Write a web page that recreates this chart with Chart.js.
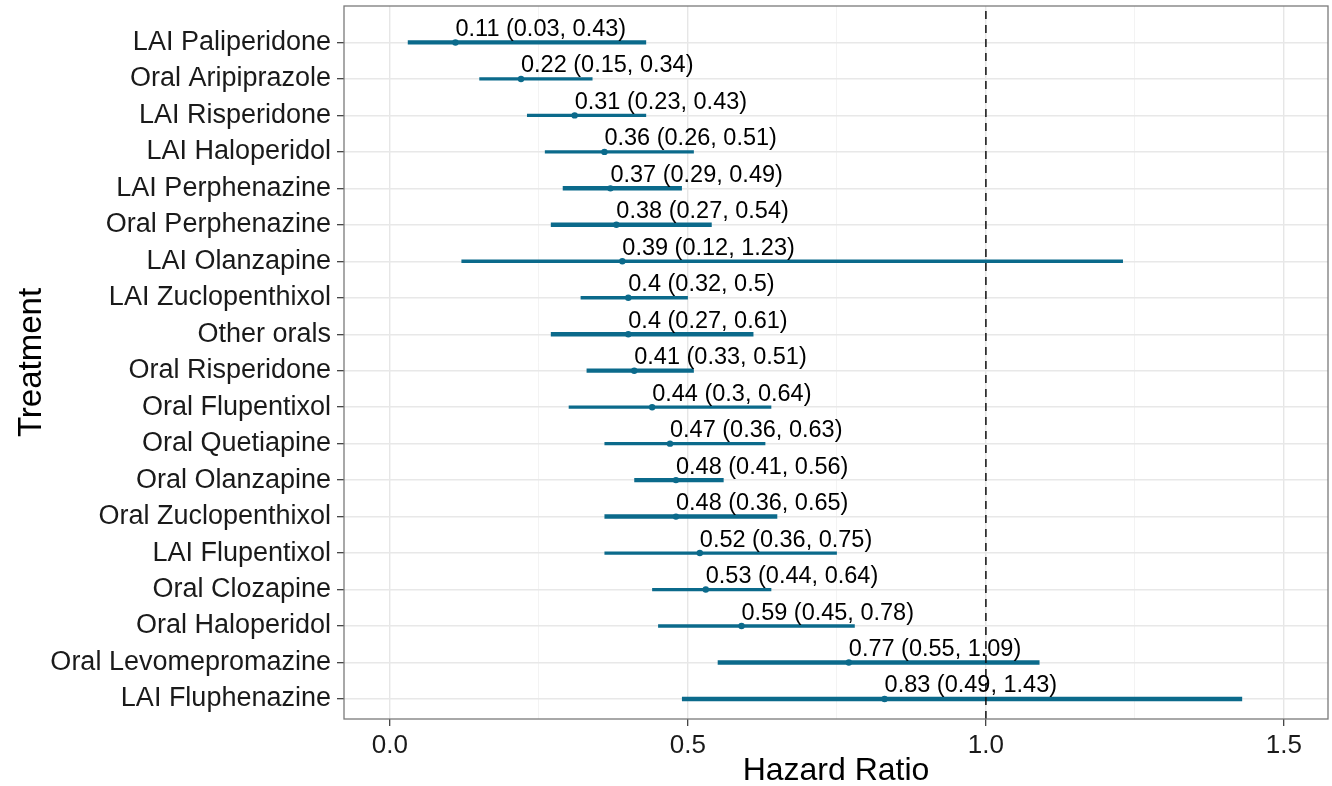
<!DOCTYPE html>
<html>
<head>
<meta charset="utf-8">
<title>Hazard ratios by treatment</title>
<script src="https://cdn.jsdelivr.net/npm/chart.js@4.4.1/dist/chart.umd.min.js"></script>
<style>
  html, body { margin: 0; padding: 0; background: #ffffff; }
  #wrap { width: 1332px; height: 786px; }
</style>
</head>
<body>
<div id="wrap"><canvas id="forest" width="1332" height="786"></canvas></div>
<script>
// Treatments, listed top to bottom
const categories = [
  'LAI Paliperidone', 'Oral Aripiprazole', 'LAI Risperidone', 'LAI Haloperidol',
  'LAI Perphenazine', 'Oral Perphenazine', 'LAI Olanzapine', 'LAI Zuclopenthixol',
  'Other orals', 'Oral Risperidone', 'Oral Flupentixol', 'Oral Quetiapine',
  'Oral Olanzapine', 'Oral Zuclopenthixol', 'LAI Flupentixol', 'Oral Clozapine',
  'Oral Haloperidol', 'Oral Levomepromazine', 'LAI Fluphenazine'
];
// Hazard ratio point estimates and 95% confidence limits
const estimate = [0.11, 0.22, 0.31, 0.36, 0.37, 0.38, 0.39, 0.4, 0.4, 0.41, 0.44, 0.47, 0.48, 0.48, 0.52, 0.53, 0.59, 0.77, 0.83];
const lower    = [0.03, 0.15, 0.23, 0.26, 0.29, 0.27, 0.12, 0.32, 0.27, 0.33, 0.3, 0.36, 0.41, 0.36, 0.36, 0.44, 0.45, 0.55, 0.49];
const upper    = [0.43, 0.34, 0.43, 0.51, 0.49, 0.54, 1.23, 0.5, 0.61, 0.51, 0.64, 0.63, 0.56, 0.65, 0.75, 0.64, 0.78, 1.09, 1.43];
// Interval line thickness per treatment
const lineWidths = [4.3, 3.3, 3.3, 3.3, 4.5, 4.5, 3.6, 3.3, 4.5, 4.3, 3.3, 3.3, 4.3, 4.5, 3.3, 3.3, 3.3, 4.5, 4.5];
// Axis ticks
const xMajorTicks = [0, 0.5, 1, 1.5];
const xTickLabels = ['0.0', '0.5', '1.0', '1.5'];
const xMinorTicks = [0.25, 0.75, 1.25];
const referenceHR = 1;

const TEAL = '#0b6a8b';
const FONT = '"Liberation Sans", Arial, Helvetica, sans-serif';
const n = categories.length;
const rowValue = i => n - i;          // first treatment at the top
const Y_MIN = 0.45, Y_MAX = 20;
const X_MIN = -0.077, X_MAX = 1.574;

Chart.defaults.font.family = FONT;

const datasets = categories.map((name, i) => ({
  type: 'line',
  label: name,
  data: [{ x: lower[i], y: rowValue(i) }, { x: upper[i], y: rowValue(i) }],
  borderColor: TEAL,
  borderWidth: lineWidths[i],
  borderCapStyle: 'butt',
  pointRadius: 0,
  order: 3
}));
datasets.push({
  type: 'scatter',
  label: 'Estimate',
  data: estimate.map((v, i) => ({ x: v, y: rowValue(i) })),
  backgroundColor: TEAL,
  borderWidth: 0,
  pointRadius: 3.2,
  order: 2
});
datasets.push({
  type: 'line',
  label: 'No effect',
  data: [{ x: referenceHR, y: Y_MIN }, { x: referenceHR, y: Y_MAX }],
  borderColor: '#111111',
  borderWidth: 1.5,
  borderDash: [8, 6],
  pointRadius: 0,
  order: 1
});

// Value labels above each interval, then the panel frame
const annotate = {
  id: 'annotate',
  afterDatasetsDraw(chart) {
    const { ctx, chartArea, scales } = chart;
    ctx.save();
    ctx.font = '23.5px ' + FONT;
    ctx.fillStyle = '#000000';
    ctx.textAlign = 'left';
    ctx.textBaseline = 'alphabetic';
    categories.forEach((_, i) => {
      const label = `${estimate[i]} (${lower[i]}, ${upper[i]})`;
      const px = scales.x.getPixelForValue(estimate[i]);
      const py = scales.y.getPixelForValue(rowValue(i));
      ctx.fillText(label, px, py - 6.5);
    });
    ctx.strokeStyle = '#7a7a7a';
    ctx.lineWidth = 1.3;
    ctx.strokeRect(chartArea.left, chartArea.top, chartArea.right - chartArea.left, chartArea.bottom - chartArea.top);
    ctx.restore();
  }
};

const isMajor = v => xMajorTicks.some(t => Math.abs(t - v) < 1e-9);

new Chart(document.getElementById('forest'), {
  type: 'scatter',
  data: { datasets },
  options: {
    responsive: false,
    animation: false,
    layout: { padding: { top: 6, right: 3, left: 0, bottom: 0 } },
    plugins: { legend: { display: false }, tooltip: { enabled: false } },
    scales: {
      x: {
        type: 'linear',
        min: X_MIN,
        max: X_MAX,
        afterBuildTicks: s => {
          s.ticks = xMajorTicks.concat(xMinorTicks).sort((a, b) => a - b).map(v => ({ value: v }));
        },
        afterFit: s => { s.height = 67; s.paddingLeft = 0; s.paddingRight = 0; },
        ticks: {
          autoSkip: false,
          maxRotation: 0,
          padding: 4,
          color: '#1a1a1a',
          font: { size: 26 },
          callback: v => {
            const k = xMajorTicks.findIndex(t => Math.abs(t - v) < 1e-9);
            return k >= 0 ? xTickLabels[k] : '';
          }
        },
        grid: {
          drawTicks: true,
          tickLength: 7,
          tickWidth: 1.2,
          color: ctx => (ctx.tick && isMajor(ctx.tick.value)) ? '#e6e6e6' : '#f0f0f0',
          lineWidth: ctx => (ctx.tick && isMajor(ctx.tick.value)) ? 1.4 : 0.8,
          tickColor: ctx => (ctx.tick && isMajor(ctx.tick.value)) ? '#333333' : 'rgba(0,0,0,0)'
        },
        border: { display: false },
        title: {
          display: true,
          text: 'Hazard Ratio',
          color: '#000000',
          font: { size: 32, lineHeight: 0.9 },
          padding: 0
        }
      },
      y: {
        type: 'linear',
        min: Y_MIN,
        max: Y_MAX,
        afterBuildTicks: s => {
          s.ticks = categories.map((_, i) => ({ value: rowValue(i) }));
        },
        afterFit: s => { s.width = 344; s.paddingTop = 0; s.paddingBottom = 0; },
        ticks: {
          autoSkip: false,
          padding: 6,
          color: '#1a1a1a',
          font: { size: 27 },
          callback: v => categories[n - v]
        },
        grid: {
          drawTicks: true,
          tickLength: 7,
          tickWidth: 1.2,
          tickColor: '#333333',
          color: '#e8e8e8',
          lineWidth: 1.4
        },
        border: { display: false },
        title: {
          display: true,
          text: 'Treatment',
          color: '#000000',
          font: { size: 33 },
          padding: { top: 12, bottom: 0 }
        }
      }
    }
  },
  plugins: [annotate]
});
</script>
</body>
</html>
